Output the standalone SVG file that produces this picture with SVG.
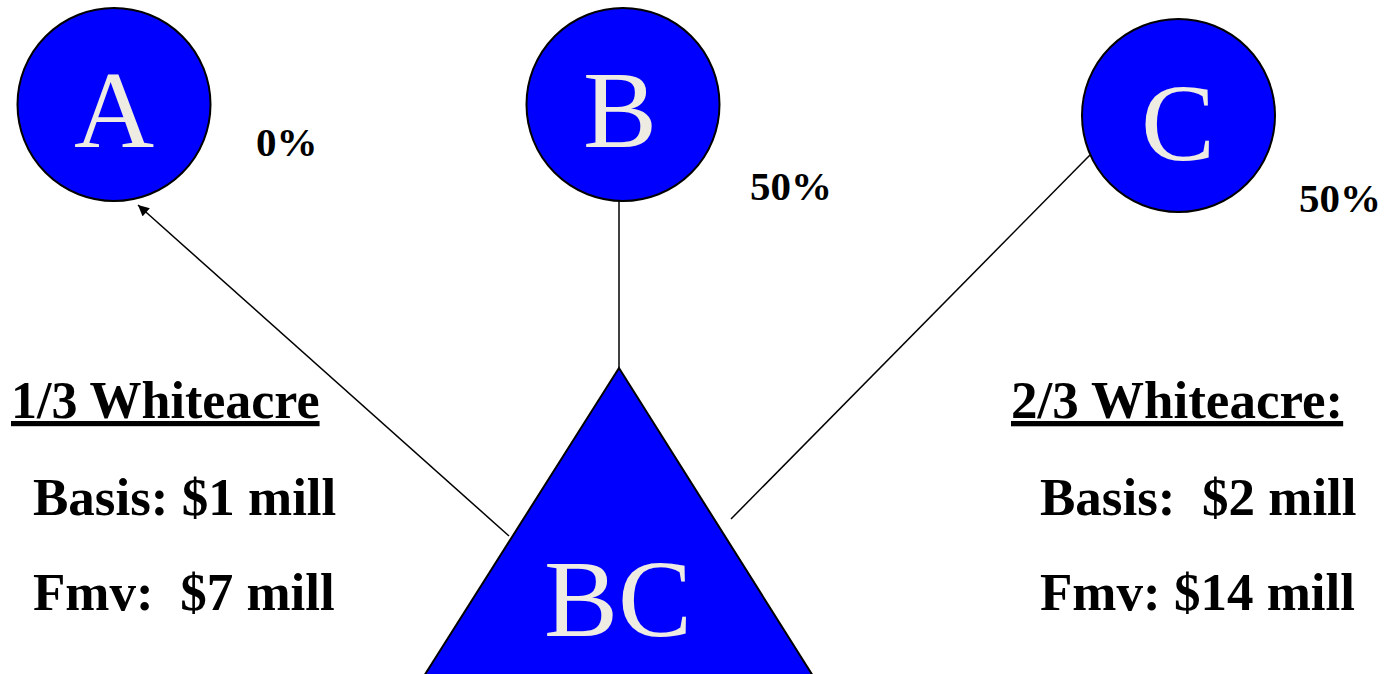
<svg xmlns="http://www.w3.org/2000/svg" width="1386" height="674" viewBox="0 0 1386 674">
<style>
.node{fill:#0000FF;stroke:#000;stroke-width:2}
.nl{font-family:"Liberation Serif",serif;fill:#EEEBE3;text-anchor:middle}
.lbl{font-family:"Liberation Serif",serif;font-weight:bold;fill:#000;white-space:pre}
.con{stroke:#000;stroke-width:1.5;fill:none}
</style>
<defs>
<marker id="ah" viewBox="0 0 10 10" refX="10" refY="5" markerWidth="12" markerHeight="11" markerUnits="userSpaceOnUse" orient="auto">
<path d="M0,0 L10,5 L0,10 z" fill="#000"/>
</marker>
</defs>
<rect width="1386" height="674" fill="#fff"/>
<g id="connectors">
<line class="con" x1="619" y1="201" x2="619" y2="368"/>
<line class="con" x1="731" y1="519" x2="1090" y2="155"/>
<line class="con" x1="509" y1="536" x2="138" y2="205" marker-end="url(#ah)"/>
</g>
<g id="node-A">
<circle class="node" cx="114" cy="104.5" r="96.5"/>
<text class="nl" x="114" y="147" font-size="111">A</text>
</g>
<g id="node-B">
<circle class="node" cx="623" cy="104.5" r="96.5"/>
<text class="nl" x="620" y="147" font-size="111">B</text>
</g>
<g id="node-C">
<circle class="node" cx="1178.5" cy="115.5" r="96.5"/>
<text class="nl" x="1178" y="160" font-size="111">C</text>
</g>
<g id="node-BC">
<polygon class="node" points="619,368 424,676 813,676"/>
<text class="nl" x="618" y="636" font-size="111">BC</text>
</g>
<g id="labels">
<text class="lbl" x="256" y="156" font-size="41">0%</text>
<text class="lbl" x="750" y="200" font-size="41">50%</text>
<text class="lbl" x="1299" y="212" font-size="41">50%</text>
<text class="lbl" x="11" y="418" font-size="52" text-decoration="underline">1/3 Whiteacre</text>
<text class="lbl" x="33" y="515" font-size="53">Basis: $1 mill</text>
<text class="lbl" x="33" y="610" font-size="53">Fmv:  $7 mill</text>
<text class="lbl" x="1011" y="418" font-size="53" text-decoration="underline">2/3 Whiteacre:</text>
<text class="lbl" x="1040" y="515" font-size="53">Basis:  $2 mill</text>
<text class="lbl" x="1040" y="610" font-size="53">Fmv: $14 mill</text>
</g>
</svg>
